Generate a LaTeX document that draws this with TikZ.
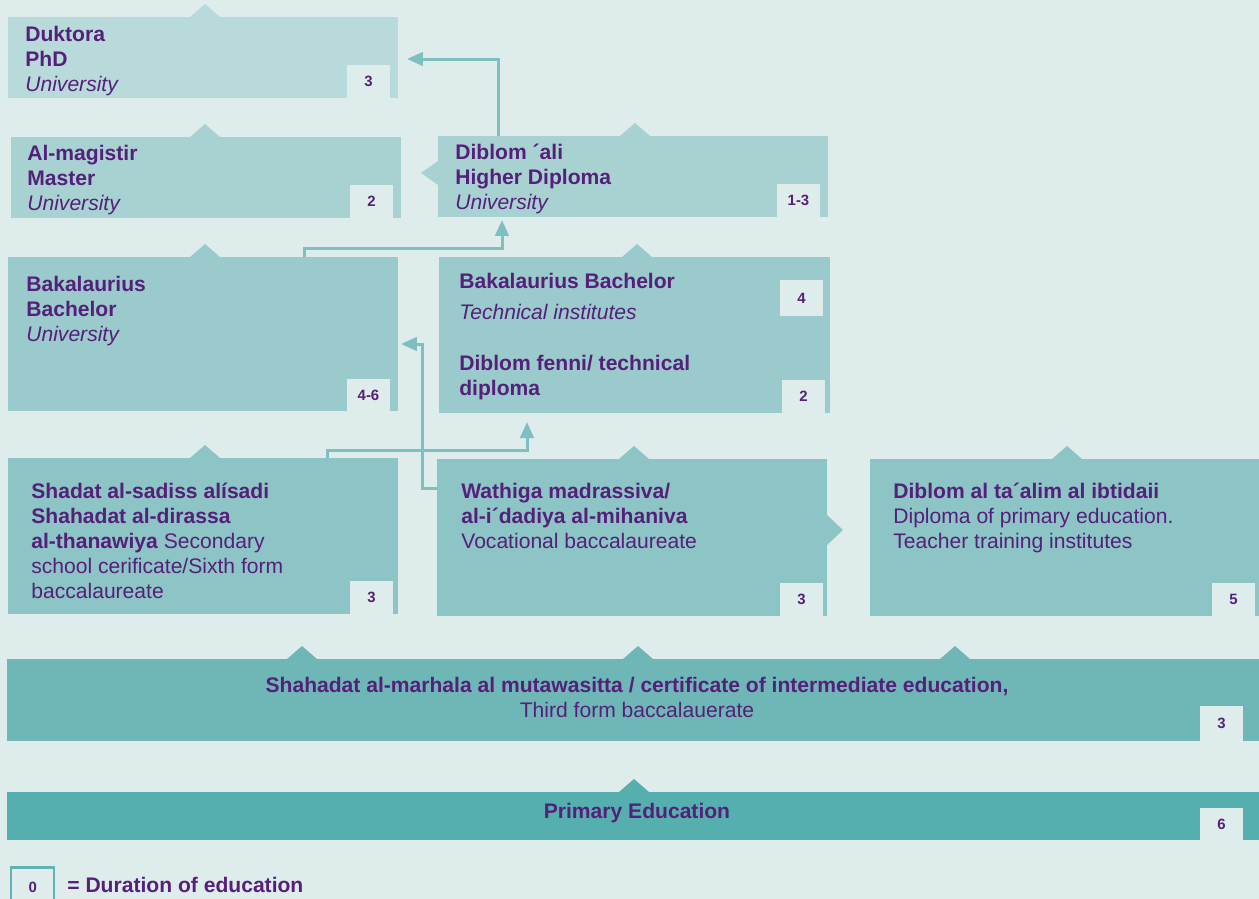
\documentclass[tikz,border=0pt]{standalone}
\usepackage{fontspec}
\setmainfont{Liberation Sans}
\usetikzlibrary{arrows.meta,fit,calc}
\definecolor{bgc}{HTML}{DFECEC}
\definecolor{ink}{HTML}{55207A}
\definecolor{linkc}{HTML}{7EC0C0}
\definecolor{legc}{HTML}{5FB3B2}
\definecolor{cA}{HTML}{B9DADB}
\definecolor{cB}{HTML}{A8D2D2}
\definecolor{cC}{HTML}{9ACACB}
\definecolor{cD}{HTML}{8DC4C5}
\definecolor{cE}{HTML}{6FB7B6}
\definecolor{cF}{HTML}{56AFAF}
\newcommand{\NotchUp}[3]{\fill[#1] (#2-15,#3) -- (#2,#3-13) -- (#2+15,#3) -- cycle;}
\tikzset{
  box/.style={inner sep=0pt, outer sep=0pt, fill=#1},
  txt/.style={anchor=north west, align=left, inner sep=0pt, text=ink, font=\fontsize{12}{14.2}\selectfont},
  dur/.style={fill=bgc, minimum width=0.86cm, minimum height=0.66cm, inner sep=0pt, text=ink, font=\fontsize{8.5}{10}\selectfont\bfseries},
  link/.style={draw=linkc, line width=0.06cm, -{Triangle[length=0.32cm,width=0.27cm]}}
}
\begin{document}
\begin{tikzpicture}[x=0.02cm, y=-0.02cm]
\useasboundingbox (0,0) rectangle (1259,899);
\clip (0,0) rectangle (1259,899);
\fill[bgc] (0,0) rectangle (1259,899);

% Boxes
\node[box=cA, fit={(8,17) (398,98)}]      (phd)  {};
\node[box=cB, fit={(11,137) (401,218)}]   (mag)  {};
\node[box=cB, fit={(438,136) (828,217)}]  (dali) {};
\node[box=cC, fit={(8,257) (398,411)}]    (bach) {};
\node[box=cC, fit={(439,257) (830,413)}]  (tech) {};
\node[box=cD, fit={(8,458) (398,614)}]    (sec)  {};
\node[box=cD, fit={(437,459) (827,616)}]  (voc)  {};
\node[box=cD, fit={(870,459) (1262,616)}] (tti)  {};
\node[box=cE, fit={(7,659) (1262,741)}]   (inter) {};
\node[box=cF, fit={(7,792) (1262,840)}]   (prim) {};

% Notches
\NotchUp{cA}{205}{17}
\NotchUp{cB}{205}{137}
\NotchUp{cB}{635}{136}
\NotchUp{cC}{205}{257}
\NotchUp{cC}{637}{257}
\NotchUp{cD}{205}{458}
\NotchUp{cD}{634}{459}
\NotchUp{cD}{1067}{459}
\NotchUp{cE}{302}{659}
\NotchUp{cE}{638}{659}
\NotchUp{cE}{955}{659}
\NotchUp{cF}{634}{792}
\fill[cB] (438,161) -- (421,173) -- (438,185) -- cycle;
\fill[cD] (827,515) -- (843,530) -- (827,545) -- cycle;

% Texts
\node[txt] (phdT)  at (25,26)  {\textbf{Duktora}\\\textbf{PhD}\\\textit{University}};
\node[txt] (magT)  at (27,145) {\textbf{Al-magistir}\\\textbf{Master}\\\textit{University}};
\node[txt] (daliT) at (455,144) {\textbf{Diblom ´ali}\\\textbf{Higher Diploma}\\\textit{University}};
\node[txt] (bachT) at (26,276) {\textbf{Bakalaurius}\\\textbf{Bachelor}\\\textit{University}};
\node[txt] (techT) at (459,273) {\textbf{Bakalaurius Bachelor}\\[3.4pt]\textit{Technical institutes}\\[14.7pt]\textbf{Diblom fenni/ technical}\\\textbf{diploma}};
\node[txt] (secT)  at (31,483) {\textbf{Shadat al-sadiss alísadi}\\\textbf{Shahadat al-dirassa}\\\textbf{al-thanawiya} Secondary\\school cerificate/Sixth form\\baccalaureate};
\node[txt] (vocT)  at (461,483) {\textbf{Wathiga madrassiva/}\\\textbf{al-i´dadiya al-mihaniva}\\Vocational baccalaureate};
\node[txt] (ttiT)  at (893,483) {\textbf{Diblom al ta´alim al ibtidaii}\\Diploma of primary education.\\Teacher training institutes};
\node[txt, anchor=center, align=center] (interT) at (637,697) {\textbf{Shahadat al-marhala al mutawasitta / certificate of intermediate education,}\\Third form baccalauerate};
\node[txt, anchor=center] (primT) at (637,813) {\textbf{Primary Education}};

% Durations
\node[dur] (phdD)  at (368.5,81.5) {3};
\node[dur] (magD)  at (371.5,201.5) {2};
\node[dur] (daliD) at (798.5,200.5) {1-3};
\node[dur] (bachD) at (368.5,395) {4-6};
\node[dur, minimum height=0.72cm] (techD) at (801.5,298) {4};
\node[dur] (dipD)  at (803.5,396.5) {2};
\node[dur] (secD)  at (371.5,597.5) {3};
\node[dur] (vocD)  at (801.5,599) {3};
\node[dur] (ttiD)  at (1233.5,599) {5};
\node[dur, minimum height=0.7cm] (interD) at (1221.5,723.5) {3};
\node[dur, minimum height=0.64cm] (primD)  at (1221.5,824) {6};

% Legend
\node[dur, draw=legc, line width=0.05cm, minimum height=1cm, anchor=north west] (legD) at (10,866) {\raisebox{0.2cm}{0}};
\node[txt, anchor=west] (legT) at (67,885) {\textbf{= Duration of education}};

% Edges
\draw[link] (dali.north) ++(-135,0) |- ($(phd.east)+(9,1.5)$);
\draw[link] (bach.north) ++(101,0) -- ++(0,-9) -| ($(dali.south)+(-131,3)$);
\draw[link] (sec.north) ++(124,0) -- ++(0,-8) -| ($(tech.south)+(-107.5,9)$);
\draw[link] ($(voc.west)+(0,-49.5)$) -- ++(-15,0) |- ($(bach.east)+(3,10)$);
\end{tikzpicture}
\end{document}
